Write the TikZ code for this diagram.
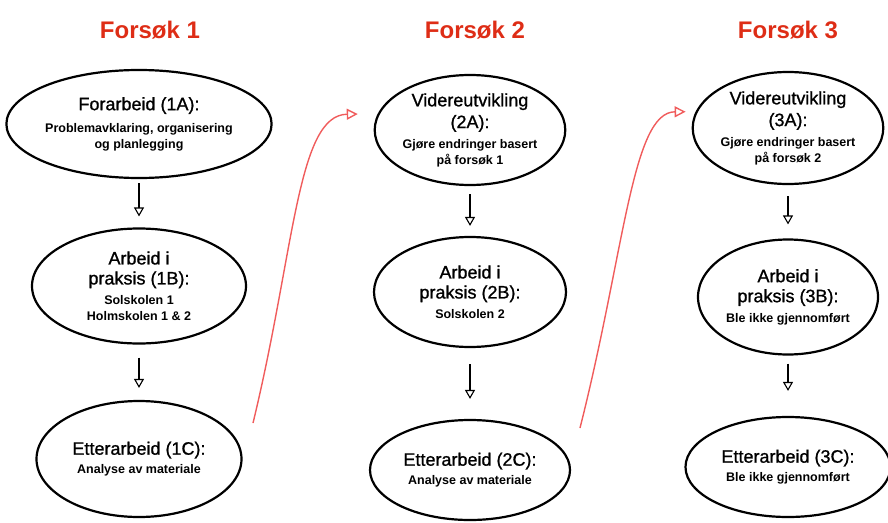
\documentclass[tikz,border=0pt]{standalone}
\usepackage{fontspec}
\setmainfont{Liberation Sans}
\newfontfamily\headfamily[FakeBold=1]{Liberation Sans}
\usepackage{xcolor}
\usetikzlibrary{shapes,arrows.meta}
\definecolor{titlered}{RGB}{222,45,22}
\definecolor{curvered}{RGB}{240,92,92}
\newcommand{\headfnt}{\headfamily\fontsize{18}{20}\selectfont}
\newcommand{\bodyfnt}{\normalfont\fontsize{12.5}{16}\selectfont\bfseries}
\tikzstyle{phasenode} = [ellipse, draw, line width=2.2pt, align=center, inner sep=0pt, font=\fontsize{12.5}{16}\selectfont]
\tikzstyle{flow} = [line width=1.1pt, -{Triangle[open,length=9pt,width=10pt]}]
\tikzstyle{jump} = [curvered, line width=1.4pt, -{Triangle[open,length=11pt,width=11pt]}]
\tikzstyle{trialtitle} = [text=titlered, font=\fontsize{24}{28}\selectfont\bfseries]

\begin{document}
\begin{tikzpicture}[x=1pt, y=-1pt]
\useasboundingbox (0,0) rectangle (888,522);

% Column titles
\node[trialtitle] (t1) at (150,30) {Forsøk 1};
\node[trialtitle] (t2) at (475,30) {Forsøk 2};
\node[trialtitle] (t3) at (788,30) {Forsøk 3};

% Forsok 1
\node[phasenode, minimum width=224pt, minimum height=108pt] (f1a) at (139,124)
  {\headfnt Forarbeid (1A):\\[6pt]\bodyfnt Problemavklaring, organisering\\\bodyfnt og planlegging};
\node[phasenode, minimum width=214pt, minimum height=115pt] (f1b) at (139,286)
  {\headfnt Arbeid i\\[4pt]\headfnt praksis (1B):\\[4pt]\bodyfnt Solskolen 1\\\bodyfnt Holmskolen 1 \& 2};
\node[phasenode, minimum width=205pt, minimum height=116pt] (f1c) at (139,459)
  {\headfnt Etterarbeid (1C):\\[3pt]\bodyfnt Analyse av materiale};

% Forsok 2
\node[phasenode, minimum width=184pt, minimum height=110pt] (f2a) at (470,130)
  {\headfnt Videreutvikling\\[4pt]\headfnt (2A):\\[4pt]\bodyfnt Gjøre endringer basert\\\bodyfnt på forsøk 1};
\node[phasenode, minimum width=192pt, minimum height=110pt] (f2b) at (470,292)
  {\headfnt Arbeid i\\[4pt]\headfnt praksis (2B):\\[4pt]\bodyfnt Solskolen 2};
\node[phasenode, minimum width=200pt, minimum height=100pt] (f2c) at (470,470)
  {\headfnt Etterarbeid (2C):\\[3pt]\bodyfnt Analyse av materiale};

% Forsok 3
\node[phasenode, minimum width=172pt, minimum height=112pt] (f3a) at (788,128)
  {\headfnt Videreutvikling\\[4pt]\headfnt (3A):\\[4pt]\bodyfnt Gjøre endringer basert\\\bodyfnt på forsøk 2};
\node[phasenode, minimum width=180pt, minimum height=115pt] (f3b) at (788,297)
  {\headfnt Arbeid i\\[4pt]\headfnt praksis (3B):\\[4pt]\bodyfnt Ble ikke gjennomført};
\node[phasenode, minimum width=205pt, minimum height=100pt] (f3c) at (788,467)
  {\headfnt Etterarbeid (3C):\\[3pt]\bodyfnt Ble ikke gjennomført};

% Steps within each trial
\draw[flow, shorten <=4pt, shorten >=11pt] (f1a.south) -- (f1b.north);
\draw[flow, shorten <=13pt, shorten >=12pt] (f1b.south) -- (f1c.north);
\draw[flow, shorten <=8pt, shorten >=10pt] (f2a.south) -- (f2b.north);
\draw[flow, shorten <=16pt, shorten >=20pt] (f2b.south) -- (f2c.north);
\draw[flow, shorten <=11pt, shorten >=14pt] (f3a.south) -- (f3b.north);
\draw[flow, shorten <=8pt, shorten >=25pt] (f3b.south) -- (f3c.north);

% Jumps to the next trial
\coordinate (s1) at (253,423);
\coordinate (s2) at (580,428);
\draw[jump, shorten >=20pt] (s1) .. controls (295,250) and (297,115) .. (f2a.170);
\draw[jump, shorten >=10pt] (s2) .. controls (625,250) and (632,112) .. (f3a.170);

\end{tikzpicture}
\end{document}
